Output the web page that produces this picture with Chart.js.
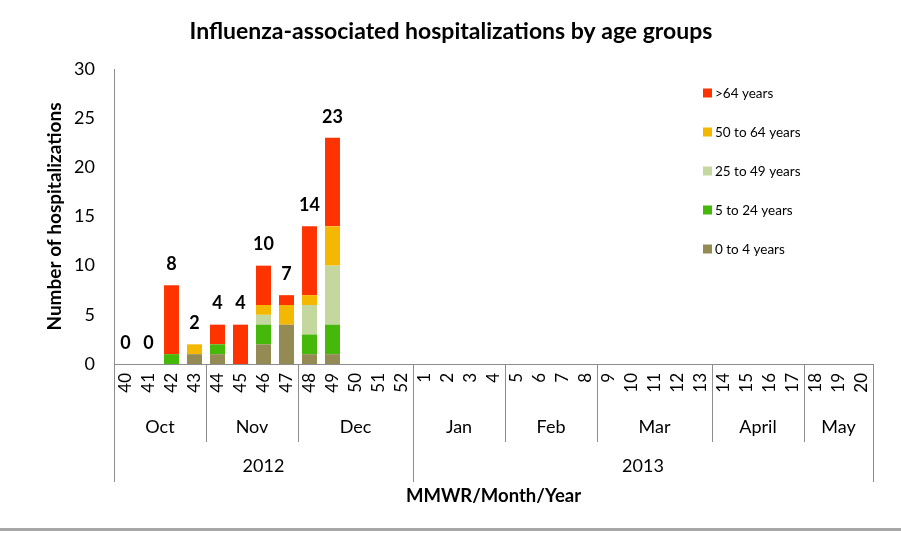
<!DOCTYPE html>
<html>
<head>
<meta charset="utf-8">
<script src="https://cdn.jsdelivr.net/npm/chart.js@4"></script>
<style>
  html, body { margin: 0; padding: 0; background: #fff; }
  #wrap { width: 901px; height: 533px; position: relative; }
  #wrap::after { content: ""; position: absolute; left: 0; right: 0; top: 528px; height: 3px; background: #a6a6a6; }
</style>
</head>
<body>
<div id="wrap"><canvas id="chart" width="901" height="533"></canvas></div>
<script>
// ===== Data =====
const weeks = ["40","41","42","43","44","45","46","47","48","49","50","51","52",
  "1","2","3","4","5","6","7","8","9","10","11","12","13","14","15","16","17","18","19","20"];

// reported weeks 40..49 only
const age0to4   = [0, 0, 0, 1, 1, 0, 2, 4, 1, 1];
const age5to24  = [0, 0, 1, 0, 1, 0, 2, 0, 2, 3];
const age25to49 = [0, 0, 0, 0, 0, 0, 1, 0, 3, 6];
const age50to64 = [0, 0, 0, 1, 0, 0, 1, 2, 1, 4];
const ageOver64 = [0, 0, 7, 0, 2, 4, 4, 1, 7, 9];

const months = ["Oct", "Nov", "Dec", "Jan", "Feb", "Mar", "April", "May"];
const monthWeeks = [4, 4, 5, 4, 4, 5, 4, 3];
const years = ["2012", "2013"];
const yearWeeks = [13, 20];

const FONT = "Lato, 'Open Sans', sans-serif";
const LINE = "#8c8c8c";

// ====================================================
// Extra drawing: title, axis titles, month/year rows, totals, legend
// ====================================================
const extras = {
  id: "extras",
  afterDraw(chart) {
    const ctx = chart.ctx;
    const x = chart.scales.x;
    const area = chart.chartArea;
    const half = (x.getPixelForValue(1) - x.getPixelForValue(0)) / 2;
    const edge = i => x.getPixelForValue(i) - half;

    ctx.save();
    ctx.fillStyle = "#000";
    ctx.textAlign = "center";
    ctx.textBaseline = "middle";

    // title
    ctx.font = "bold 23px " + FONT;
    ctx.fillText("Influenza-associated hospitalizations by age groups", 451, 32);

    // y axis title
    ctx.save();
    ctx.translate(55, (area.top + area.bottom) / 2);
    ctx.rotate(-Math.PI / 2);
    ctx.font = "bold 19px " + FONT;
    ctx.fillText("Number of hospitalizations", 0, 0);
    ctx.restore();

    // x axis title
    ctx.font = "bold 18.5px " + FONT;
    ctx.fillText("MMWR/Month/Year", (area.left + area.right) / 2, 496);

    // month row
    ctx.strokeStyle = LINE;
    ctx.lineWidth = 1;
    ctx.font = "18px " + FONT;
    let start = 0;
    months.forEach((m, i) => {
      const end = start + monthWeeks[i];
      ctx.fillText(m, (edge(start) + edge(end)) / 2, 427);
      if (end < weeks.length) {
        const px = Math.round(edge(end)) + 0.5;
        ctx.beginPath(); ctx.moveTo(px, area.bottom); ctx.lineTo(px, 442); ctx.stroke();
      }
      start = end;
    });

    // year row
    start = 0;
    const lineAt = px => {
      px = Math.round(px) + 0.5;
      ctx.beginPath(); ctx.moveTo(px, area.bottom); ctx.lineTo(px, 482); ctx.stroke();
    };
    lineAt(edge(0));
    years.forEach((y, i) => {
      const end = start + yearWeeks[i];
      ctx.fillText(y, (edge(start) + edge(end)) / 2, 466);
      lineAt(edge(end));
      start = end;
    });

    // totals above bars
    ctx.font = "bold 18px " + FONT;
    const yScale = chart.scales.y;
    age0to4.forEach((_, i) => {
      const total = age0to4[i] + age5to24[i] + age25to49[i] + age50to64[i] + ageOver64[i];
      ctx.fillText(String(total), x.getPixelForValue(i), yScale.getPixelForValue(total) - 21);
    });

    // legend (top series first)
    ctx.font = "13.5px " + FONT;
    ctx.textAlign = "left";
    const ds = chart.data.datasets.slice().reverse();
    ds.forEach((d, i) => {
      const cy = 93 + i * 39;
      ctx.fillStyle = d.backgroundColor;
      ctx.fillRect(703, cy - 4.5, 9, 9);
      ctx.fillStyle = "#000";
      ctx.fillText(d.label, 715, cy + 1);
    });

    ctx.restore();
  }
};

function makeSet(label, data, color) {
  return { label, data, backgroundColor: color, borderWidth: 0,
           categoryPercentage: 1, barPercentage: 0.65 };
}

new Chart(document.getElementById("chart"), {
  type: "bar",
  data: {
    labels: weeks,
    datasets: [
      makeSet("0 to 4 years", age0to4, "#948a54"),
      makeSet("5 to 24 years", age5to24, "#46b80a"),
      makeSet("25 to 49 years", age25to49, "#c4d79e"),
      makeSet("50 to 64 years", age50to64, "#f5b800"),
      makeSet(">64 years", ageOver64, "#ff3300"),
    ],
  },
  options: {
    responsive: false,
    animation: false,
    layout: { padding: { top: 69, right: 28, left: 0, bottom: 0 } },
    plugins: { legend: { display: false }, tooltip: { enabled: false }, title: { display: false } },
    scales: {
      x: {
        stacked: true,
        grid: { display: false, drawTicks: false },
        border: { color: LINE },
        ticks: { color: "#000", font: { family: FONT, size: 17 }, minRotation: 90, maxRotation: 90,
                 autoSkip: false, padding: 9 },
        afterFit: s => { s.height = 169; },
      },
      y: {
        stacked: true,
        min: 0, max: 30,
        grid: { display: false, drawTicks: false },
        border: { color: LINE },
        ticks: { color: "#000", stepSize: 5, font: { family: FONT, size: 18 }, padding: 19 },
        afterFit: s => { s.width = 114; },
      },
    },
  },
  plugins: [extras],
});
</script>
</body>
</html>
